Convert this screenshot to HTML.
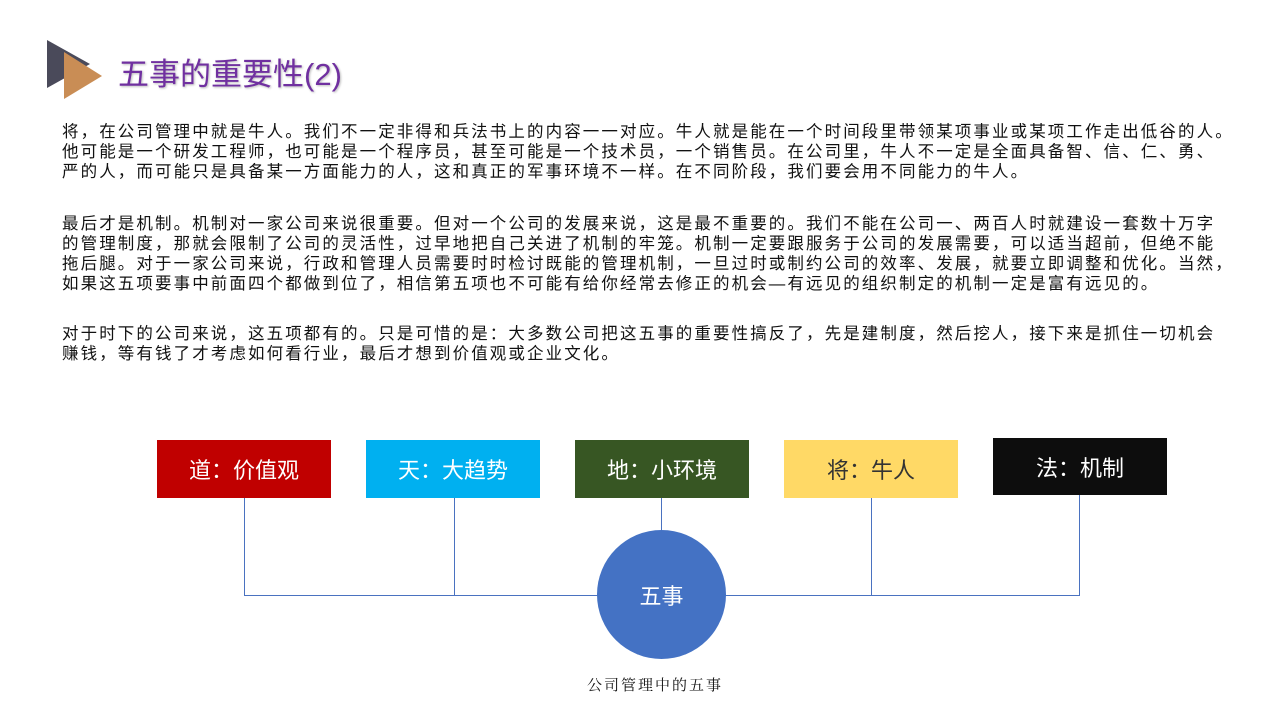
<!DOCTYPE html>
<html><head><meta charset="utf-8"><style>
body{margin:0;width:1280px;height:720px;background:#fff;position:relative;overflow:hidden;font-family:"Liberation Sans","Noto Sans CJK SC",sans-serif;}
.p{position:absolute;left:62px;font-size:16.5px;line-height:20px;color:#111;white-space:nowrap;letter-spacing:2.1px}
.b{position:absolute;height:58px;width:174px;color:#fff;font-size:22px;display:flex;align-items:center;justify-content:center}
.l{position:absolute;background:#4a72c0}
</style></head><body>
<svg style="position:absolute;left:0;top:0" width="120" height="110">
<polygon points="47,40 47,88 90,64" fill="#4a4a5a"/>
<polygon points="64,52 64,99 102,76" fill="#c98d55"/>
</svg>
<div style="position:absolute;left:118px;top:49px;font-size:31px;color:#7030a0;text-shadow:1px 1px 2px #bbb;">五事的重要性(2)</div>
<div class="p" style="top:122px">将，在公司管理中就是牛人。我们不一定非得和兵法书上的内容一一对应。牛人就是能在一个时间段里带领某项事业或某项工作走出低谷的人。<br>他可能是一个研发工程师，也可能是一个程序员，甚至可能是一个技术员，一个销售员。在公司里，牛人不一定是全面具备智、信、仁、勇、<br>严的人，而可能只是具备某一方面能力的人，这和真正的军事环境不一样。在不同阶段，我们要会用不同能力的牛人。</div>
<div class="p" style="top:214px">最后才是机制。机制对一家公司来说很重要。但对一个公司的发展来说，这是最不重要的。我们不能在公司一、两百人时就建设一套数十万字<br>的管理制度，那就会限制了公司的灵活性，过早地把自己关进了机制的牢笼。机制一定要跟服务于公司的发展需要，可以适当超前，但绝不能<br>拖后腿。对于一家公司来说，行政和管理人员需要时时检讨既能的管理机制，一旦过时或制约公司的效率、发展，就要立即调整和优化。当然，<br>如果这五项要事中前面四个都做到位了，相信第五项也不可能有给你经常去修正的机会—有远见的组织制定的机制一定是富有远见的。</div>
<div class="p" style="top:324px">对于时下的公司来说，这五项都有的。只是可惜的是：大多数公司把这五事的重要性搞反了，先是建制度，然后挖人，接下来是抓住一切机会<br>赚钱，等有钱了才考虑如何看行业，最后才想到价值观或企业文化。</div>
<div class="l" style="left:244px;top:498px;width:1px;height:97px"></div>
<div class="l" style="left:454px;top:498px;width:1px;height:97px"></div>
<div class="l" style="left:244px;top:595px;width:360px;height:1px"></div>
<div class="l" style="left:661px;top:498px;width:1px;height:34px"></div>
<div class="l" style="left:871px;top:498px;width:1px;height:97px"></div>
<div class="l" style="left:1079px;top:495px;width:1px;height:100px"></div>
<div class="l" style="left:720px;top:595px;width:360px;height:1px"></div>
<div class="b" style="left:157px;top:440px;background:#c00000">道：价值观</div>
<div class="b" style="left:366px;top:440px;background:#00b0f0">天：大趋势</div>
<div class="b" style="left:575px;top:440px;background:#375623">地：小环境</div>
<div class="b" style="left:784px;top:440px;background:#ffd966;color:#333">将：牛人</div>
<div class="b" style="left:993px;top:438px;height:57px;background:#0d0d0d">法：机制</div>
<div style="position:absolute;left:597px;top:530px;width:129px;height:129px;border-radius:50%;background:#4472c4;color:#fff;font-size:22px;display:flex;align-items:center;justify-content:center">五事</div>
<div style="position:absolute;left:587px;top:674px;font-size:15px;letter-spacing:2px;color:#111;font-family:'Liberation Serif','Noto Serif CJK SC',serif">公司管理中的五事</div>
</body></html>
